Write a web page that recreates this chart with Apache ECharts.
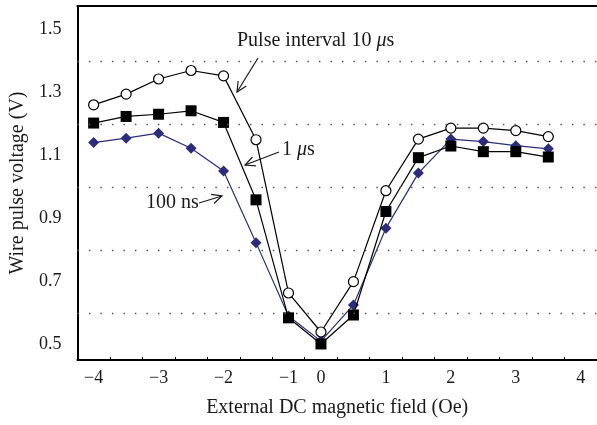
<!DOCTYPE html>
<html>
<head>
<meta charset="utf-8">
<script src="https://cdn.jsdelivr.net/npm/echarts@6/dist/echarts.min.js"></script>
<style>
  html, body { margin: 0; padding: 0; background: #fff; }
  #chart { width: 597px; height: 425px; }
</style>
</head>
<body>
<div id="chart"></div>
<script>
// field values (Oe), one category per measuring step
var fields = ['-4', '-3.5', '-3', '-2.5', '-2', '-1.5', '-1', '0', '0.5', '1', '1.5', '2', '2.5', '3', '3.5', '4']
var labelFields = ['-4', '-3', '-2', '-1', '0', '1', '2', '3', '4']

// wire pulse voltage (V)
var interval10us = [1.261, 1.295, 1.343, 1.370, 1.353, 1.150, 0.663, 0.539, 0.699, 0.988, 1.152, 1.187, 1.187, 1.179, 1.160]
var interval1us = [1.203, 1.224, 1.231, 1.242, 1.205, 0.959, 0.584, 0.501, 0.593, 0.922, 1.093, 1.130, 1.112, 1.112, 1.095]
var interval100ns = [1.141, 1.155, 1.171, 1.123, 1.051, 0.823, 0.590, 0.510, 0.625, 0.869, 1.044, 1.152, 1.144, 1.131, 1.121]

var yLabels = [0.5, 0.7, 0.9, 1.1, 1.3, 1.5]
var gridValues = [0.6, 0.8, 1.0, 1.2, 1.4]

var serif = 'Liberation Serif'
var ink = '#1a1a1a'

var chart = echarts.init(document.getElementById('chart'))

// small open arrow: shaft plus a V head at the tip
function arrow(x1, y1, x2, y2) {
    var dx = x2 - x1, dy = y2 - y1
    var len = Math.sqrt(dx * dx + dy * dy)
    var ux = dx / len, uy = dy / len
    var h = 11, a = 0.45
    var c = Math.cos(a), s = Math.sin(a)
    var w1 = [x2 - h * (ux * c - uy * s), y2 - h * (uy * c + ux * s)]
    var w2 = [x2 - h * (ux * c + uy * s), y2 - h * (uy * c - ux * s)]
    return [{
        type: 'polyline',
        shape: { points: [[x1, y1], [x2, y2]] },
        style: { stroke: ink, lineWidth: 1.2, fill: null }
    }, {
        type: 'polyline',
        shape: { points: [w1, [x2, y2], w2] },
        style: { stroke: ink, lineWidth: 1.2, fill: null }
    }]
}

function note(text, x, y) {
    return {
        type: 'text',
        x: x,
        y: y,
        style: {
            text: text,
            fill: ink,
            font: '20px ' + serif,
            verticalAlign: 'middle',
            rich: {
                i: { fontFamily: serif, fontSize: 20, fontStyle: 'italic', fill: ink }
            }
        }
    }
}

var option = {
    backgroundColor: '#fff',
    animation: false,
    grid: { left: 71, right: 0, top: 6, bottom: 65 },
    xAxis: [{
        type: 'category',
        data: fields,
        boundaryGap: true,
        name: 'External DC magnetic field (Oe)',
        nameLocation: 'middle',
        nameGap: 38,
        nameTextStyle: { fontFamily: serif, fontSize: 20, color: ink },
        axisLine: { lineStyle: { color: '#000', width: 2 } },
        axisTick: { show: true, inside: true, length: 3, interval: 0, lineStyle: { color: '#000', width: 1 } },
        axisLabel: {
            interval: function (i, v) { return labelFields.indexOf(v) >= 0 },
            formatter: function (v) { return v.replace('-', '\u2212') },
            fontFamily: serif,
            fontSize: 18,
            color: ink,
            margin: 9
        },
        splitLine: { show: false }
    }, {
        type: 'category',
        data: fields,
        position: 'top',
        axisLine: { lineStyle: { color: '#000', width: 2 } },
        axisTick: { show: false },
        axisLabel: { show: false }
    }],
    yAxis: {
        type: 'value',
        min: 0.45,
        max: 1.575,
        interval: 0.05,
        name: 'Wire pulse voltage (V)',
        nameLocation: 'middle',
        nameGap: 42,
        nameTextStyle: { fontFamily: serif, fontSize: 20, color: ink },
        axisLine: { show: true, lineStyle: { color: '#000', width: 2 } },
        axisTick: { show: false },
        splitLine: { show: false },
        axisLabel: {
            fontFamily: serif,
            fontSize: 18,
            color: ink,
            margin: 16,
            showMaxLabel: false,
            formatter: function (v) {
                for (var i = 0; i < yLabels.length; i++) {
                    if (Math.abs(v - yLabels[i]) < 1e-6) return yLabels[i].toFixed(1)
                }
                return ''
            }
        }
    },
    series: [{
        name: '100 ns',
        type: 'line',
        data: interval100ns,
        symbol: 'diamond',
        symbolSize: 11,
        lineStyle: { color: '#2b2c7c', width: 1.2 },
        itemStyle: { color: '#2b2c7c', borderWidth: 0 },
        z: 2,
        markLine: {
            silent: true,
            symbol: ['none', 'none'],
            label: { show: false },
            lineStyle: { color: '#555', width: 1.4, type: [1.5, 10] },
            data: gridValues.map(function (v) { return { yAxis: v } })
        }
    }, {
        name: '10 us',
        type: 'line',
        data: interval10us,
        symbol: 'circle',
        symbolSize: 10,
        lineStyle: { color: '#000', width: 1.2 },
        itemStyle: { color: '#fff', borderColor: '#000', borderWidth: 1.2 },
        z: 3
    }, {
        name: '1 us',
        type: 'line',
        data: interval1us,
        symbol: 'rect',
        symbolSize: 11,
        lineStyle: { color: '#000', width: 1.2 },
        itemStyle: { color: '#000', borderWidth: 0 },
        z: 4
    }],
    graphic: [
        note('Pulse interval 10 {i|\u03bc}s', 237, 41),
        note('1 {i|\u03bc}s', 282, 150),
        note('100 ns', 146, 203)
    ].concat(arrow(258, 58, 237, 92), arrow(279, 152, 245, 165), arrow(199, 203, 222, 196))
}

chart.setOption(option)
</script>
</body>
</html>
